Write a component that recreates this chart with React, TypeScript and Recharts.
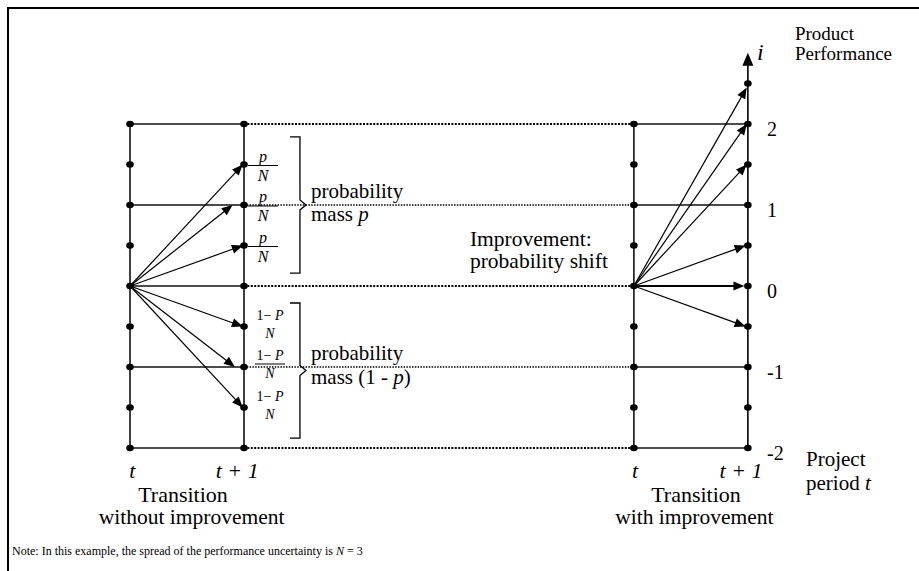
import React from 'react'
import { ComposedChart, XAxis, YAxis, Scatter, ReferenceLine, ReferenceDot } from 'recharts'

// x = project period (left pair: without improvement, right pair: with improvement)
// y = product performance level i
const leftPeriods = [0, 1]
const rightPeriods = [4.42, 5.42]
const gridLevels = [-2, -1.5, -1, -0.5, 0, 0.5, 1, 1.5, 2]
const mainLevels = [2, 1, 0, -1, -2]
const rightSolidLevels = [2, 1, -1, -2]
const thickDottedLevels = [2, 0, -2]
const thinDottedLevels = [1, -1]
const tickLabels = ['2', '1', '0', '-1', '-2']
const extraDots = [{ x: 5.42, y: 2.5 }]
const axisTop = 2.88

// arrow tips, starting from level 0 at period t
const arrowsWithout = [
  { x: 0.99, y: 1.5 },
  { x: 0.9, y: 1 },
  { x: 0.99, y: 0.5 },
  { x: 0.99, y: -0.5 },
  { x: 0.92, y: -1 },
  { x: 0.99, y: -1.5 },
]
const arrowsWith = [
  { x: 5.41, y: 2.45 },
  { x: 5.41, y: 2 },
  { x: 5.41, y: 1.5 },
  { x: 5.4, y: 0.5 },
  { x: 5.39, y: 0 },
  { x: 5.4, y: -0.5 },
]
const fracUpperLevels = [1.5, 1, 0.5]
const fracLowerLevels = [-0.5, -1, -1.5]

const X_DOMAIN = [-1.1404, 6.9211]
const Y_DOMAIN = [-3.5185, 3.5309]
const FONT = "'Liberation Serif', 'Times New Roman', serif"

function ArrowShape(props: any) {
  const { x1, y1, x2, y2, head = 11, half = 4.5, width = 1.2 } = props
  const dx = x2 - x1
  const dy = y2 - y1
  const len = Math.hypot(dx, dy) || 1
  const ux = dx / len
  const uy = dy / len
  const bx = x2 - ux * head
  const by = y2 - uy * head
  const px = -uy * half
  const py = ux * half
  return (
    <g>
      <line x1={x1} y1={y1} x2={bx + ux * 2} y2={by + uy * 2} stroke="#000" strokeWidth={width} />
      <polygon points={`${x2},${y2} ${bx + px},${by + py} ${bx - px},${by - py}`} fill="#000" />
    </g>
  )
}

function BraceShape(props: any) {
  const { x1, y1, y2 } = props
  const mid = (y1 + y2) / 2
  const d = `M ${x1 - 10} ${y1} L ${x1} ${y1} L ${x1} ${mid - 5} L ${x1 + 6} ${mid} L ${x1} ${mid + 5} L ${x1} ${y2} L ${x1 - 10} ${y2}`
  return <path d={d} fill="none" stroke="#000" strokeWidth={1.3} />
}

const txt = (key: string, x: number, y: number, content: React.ReactNode, size = 22, anchor = 'start') => (
  <ReferenceDot
    key={key}
    x={x}
    y={y}
    r={0}
    isFront
    shape={(p: any) => (
      <text x={p.cx} y={p.cy} style={{ fontFamily: FONT, fontSize: size }} textAnchor={anchor} fill="#000">
        {content}
      </text>
    )}
  />
)

const frac = (key: string, x: number, y: number, num: React.ReactNode, size: number, top: number, bottom: number, bar: boolean) => (
  <ReferenceDot
    key={key}
    x={x}
    y={y}
    r={0}
    isFront
    shape={(p: any) => (
      <g style={{ fontFamily: FONT, fontSize: size }} fill="#000">
        <text x={p.cx} y={p.cy + top} textAnchor="middle">{num}</text>
        {bar && <line x1={p.cx - 15} x2={p.cx + 15} y1={p.cy + top + 4} y2={p.cy + top + 4} stroke="#000" strokeWidth={1} />}
        <text x={p.cx} y={p.cy + bottom} textAnchor="middle" fontStyle="italic">N</text>
      </g>
    )}
  />
)

export default function App() {
  const dots = [...leftPeriods, ...rightPeriods]
    .flatMap((x) => gridLevels.map((y) => ({ x, y })))
    .concat(extraDots)
  const [tL, t1L] = leftPeriods
  const [tR, t1R] = rightPeriods

  return (
    <div style={{ position: 'absolute', left: 0, top: 0, width: 919, height: 571, overflow: 'hidden', background: '#fff', fontFamily: FONT }}>
      <div style={{ position: 'absolute', left: 7, top: 7, width: 940, height: 600, borderTop: '2px solid #000', borderLeft: '2px solid #000' }} />
      <div style={{ position: 'absolute', left: 0, top: 0 }}>
        <ComposedChart width={919} height={571} margin={{ top: 0, right: 0, bottom: 0, left: 0 }}>
          <XAxis type="number" dataKey="x" domain={X_DOMAIN} allowDataOverflow hide />
          <YAxis type="number" dataKey="y" domain={Y_DOMAIN} allowDataOverflow hide />

          {/* vertical period lines */}
          {[tL, t1L, tR].map((x) => (
            <ReferenceLine key={`v${x}`} segment={[{ x, y: -2 }, { x, y: 2 }]} stroke="#111" strokeWidth={1.6} />
          ))}
          <ReferenceLine
            segment={[{ x: t1R, y: -2 }, { x: t1R, y: axisTop }]}
            shape={(p: any) => <ArrowShape {...p} head={13} half={5.5} width={1.6} />}
          />

          {/* horizontal grid */}
          {mainLevels.map((y) => (
            <ReferenceLine key={`hl${y}`} segment={[{ x: tL, y }, { x: t1L, y }]} stroke="#111" strokeWidth={1.6} />
          ))}
          {rightSolidLevels.map((y) => (
            <ReferenceLine key={`hr${y}`} segment={[{ x: tR, y }, { x: t1R, y }]} stroke="#111" strokeWidth={1.6} />
          ))}
          {thickDottedLevels.map((y) => (
            <ReferenceLine key={`dt${y}`} segment={[{ x: t1L, y }, { x: tR, y }]} stroke="#000" strokeWidth={2.2} strokeDasharray="2 1.4" />
          ))}
          {thinDottedLevels.map((y) => (
            <ReferenceLine key={`dn${y}`} segment={[{ x: t1L, y }, { x: tR, y }]} stroke="#000" strokeWidth={1.3} strokeDasharray="1.5 1.3" />
          ))}

          {/* transition arrows */}
          {arrowsWithout.map((a, i) => (
            <ReferenceLine key={`aw${i}`} segment={[{ x: tL, y: 0 }, a]} shape={(p: any) => <ArrowShape {...p} />} />
          ))}
          {arrowsWith.map((a, i) => (
            <ReferenceLine
              key={`ai${i}`}
              segment={[{ x: tR, y: 0 }, a]}
              shape={(p: any) => <ArrowShape {...p} width={a.y === 0 ? 2.2 : 1.2} />}
            />
          ))}

          {/* braces */}
          <ReferenceLine segment={[{ x: 1.491, y: 1.842 }, { x: 1.491, y: 0.16 }]} shape={(p: any) => <BraceShape {...p} />} />
          <ReferenceLine segment={[{ x: 1.491, y: -0.21 }, { x: 1.491, y: -1.877 }]} shape={(p: any) => <BraceShape {...p} />} />

          <Scatter
            data={dots}
            isAnimationActive={false}
            shape={(p: any) => <ellipse cx={p.cx} cy={p.cy} rx={3.8} ry={3.3} fill="#000" />}
          />

          {/* probability fractions */}
          {fracUpperLevels.map((y) =>
            frac(`fu${y}`, 1.167, y, <tspan fontStyle="italic">p</tspan>, 16, -3, 16, true)
          )}
          {fracLowerLevels.map((y, i) =>
            frac(`fl${y}`, 1.228, y, <>1− <tspan fontStyle="italic">P</tspan></>, 14, -7, 11, i === 1)
          )}

          {/* level ticks */}
          {mainLevels.map((y, i) => txt(`tk${y}`, 5.588, y - 0.148, tickLabels[i], 20))}

          {txt('i', 5.5, 2.79, <tspan fontStyle="italic">i</tspan>, 24)}
          {txt('prod1', 5.833, 3.037, 'Product', 19)}
          {txt('prod2', 5.833, 2.79, 'Performance', 19)}
          {txt('proj1', 5.93, -2.222, 'Project', 21)}
          {txt('proj2', 5.93, -2.519, <>period <tspan fontStyle="italic">t</tspan></>, 21)}

          {txt('tl', 0.02, -2.37, <tspan fontStyle="italic">t</tspan>, 22, 'middle')}
          {txt('t1l', 0.94, -2.37, <tspan fontStyle="italic">t + 1</tspan>, 22, 'middle')}
          {txt('tr', 4.43, -2.37, <tspan fontStyle="italic">t</tspan>, 22, 'middle')}
          {txt('t1r', 5.36, -2.37, <tspan fontStyle="italic">t + 1</tspan>, 22, 'middle')}

          {txt('trl', 0.465, -2.667, 'Transition', 22, 'middle')}
          {txt('wol', 0.54, -2.938, 'without improvement', 21.5, 'middle')}
          {txt('trr', 4.965, -2.667, 'Transition', 22, 'middle')}
          {txt('wir', 4.95, -2.938, 'with improvement', 21.5, 'middle')}

          {txt('pu1', 1.588, 1.086, 'probability', 21)}
          {txt('pu2', 1.588, 0.802, <>mass <tspan fontStyle="italic">p</tspan></>, 21)}
          {txt('pl1', 1.588, -0.914, 'probability', 21)}
          {txt('pl2', 1.588, -1.21, <>mass (1 - <tspan fontStyle="italic">p</tspan>)</>, 21)}

          {txt('im1', 2.982, 0.494, 'Improvement:', 21.5)}
          {txt('im2', 2.982, 0.222, 'probability shift', 21.5)}

          {txt(
            'note',
            -1.035,
            -3.321,
            <>Note:  In this example, the spread of the performance uncertainty is <tspan fontStyle="italic">N</tspan> = 3</>,
            12
          )}
        </ComposedChart>
      </div>
    </div>
  )
}
